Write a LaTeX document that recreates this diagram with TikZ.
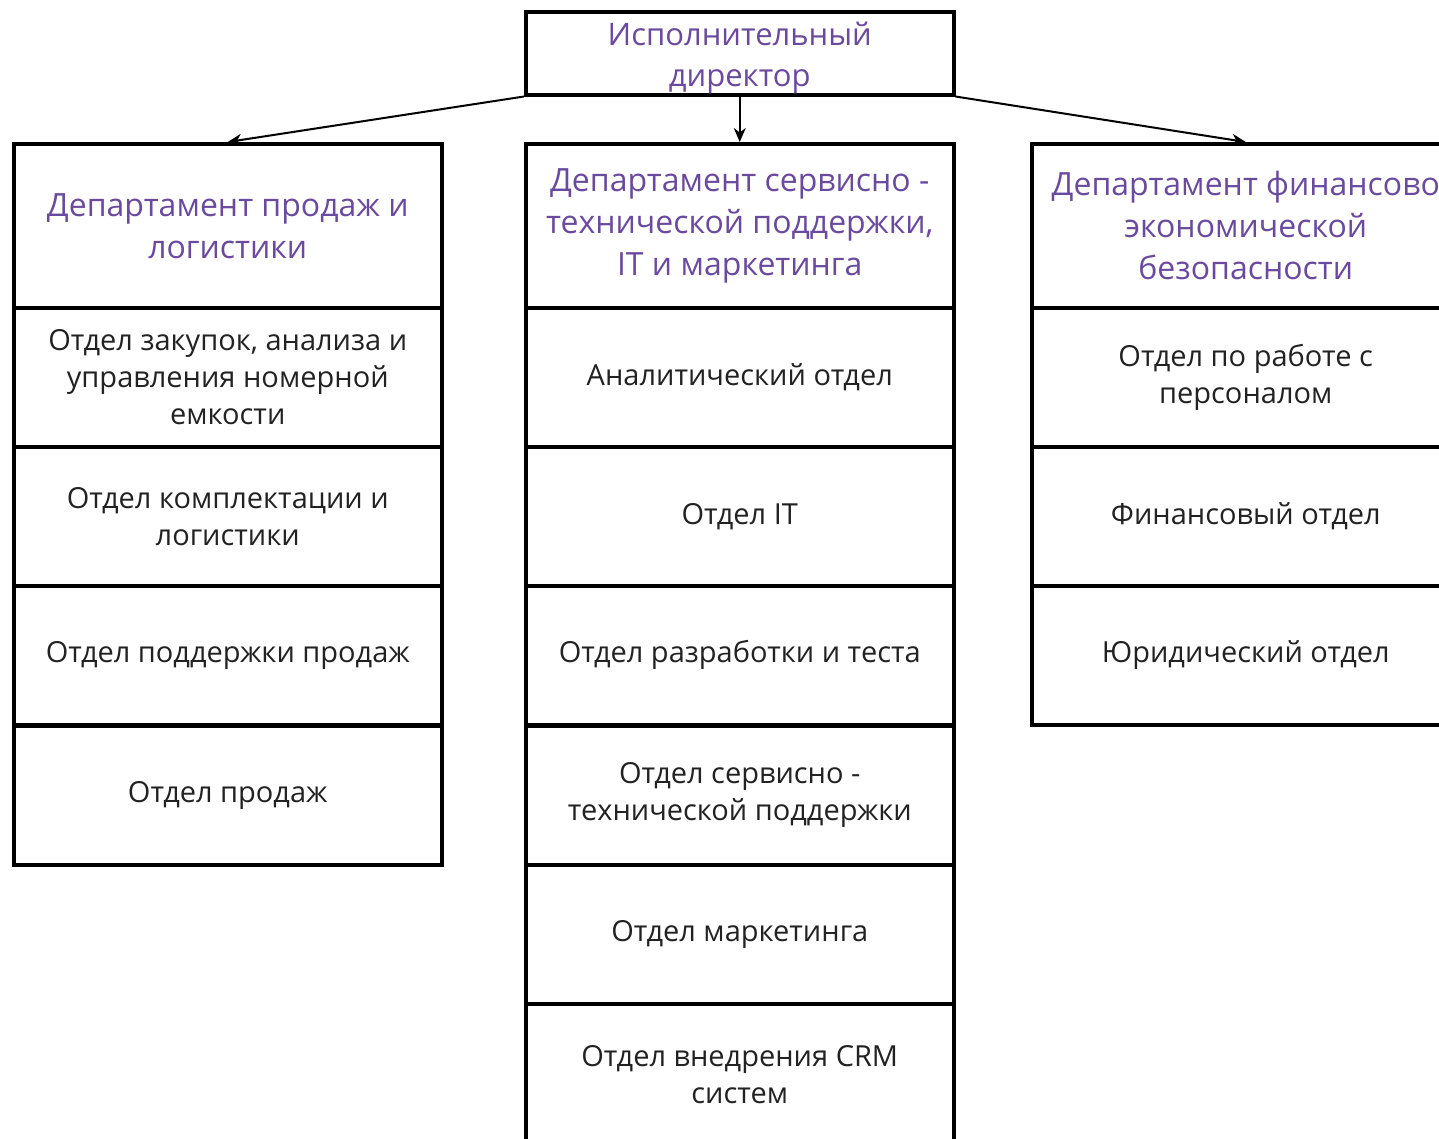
\documentclass[tikz,border=0pt]{standalone}
\usepackage{fontspec}
\setmainfont{Open Sans}
\usetikzlibrary{arrows.meta}
\definecolor{hdr}{RGB}{106,74,158}
\definecolor{txt}{RGB}{34,34,34}
\tikzset{
  cell/.style={draw=black, line width=3.5pt, rectangle, minimum width=428pt, inner sep=0pt, align=center, text=txt, font=\fontsize{29}{37}\selectfont, anchor=north west},
  hdrcell/.style={cell, text=hdr, font=\fontsize{32}{42}\selectfont},
  hdrtext/.style={text=hdr, align=center, inner sep=0pt, font=\fontsize{31}{41}\selectfont},
  conn/.style={line width=2pt, -{Stealth[length=14pt,width=12pt]}}
}
\begin{document}
\begin{tikzpicture}[x=1pt,y=-1pt]
\useasboundingbox (0,0) rectangle (1439,1138);
\clip (0,0) rectangle (1439,1138);
\fill[white] (0,0) rectangle (1439,1138);
% top
\node[cell, minimum height=83pt] (top) at (524,10) {};
\node[hdrtext] (toptext) at ([yshift=-5pt]top.center) {Исполнительный\\директор};
% left column
\node[hdrcell, minimum height=164pt] (lh) at (12,142) {Департамент продаж и\\логистики};
\node[cell, minimum height=139pt] (l1) at (12,306) {Отдел закупок, анализа и\\управления номерной\\емкости};
\node[cell, minimum height=139pt] (l2) at (12,445) {Отдел комплектации и\\логистики};
\node[cell, minimum height=139pt] (l3) at (12,584) {Отдел поддержки продаж};
\node[cell, minimum height=139pt] (l4) at (12,724) {Отдел продаж};
% middle column
\node[hdrcell, minimum height=164pt] (mh) at (524,142) {Департамент сервисно -\\технической поддержки,\\IT и маркетинга};
\node[cell, minimum height=139pt] (m1) at (524,306) {Аналитический отдел};
\node[cell, minimum height=139pt] (m2) at (524,445) {Отдел IT};
\node[cell, minimum height=139pt] (m3) at (524,584) {Отдел разработки и теста};
\node[cell, minimum height=139pt] (m4) at (524,724) {Отдел сервисно -\\технической поддержки};
\node[cell, minimum height=139pt] (m5) at (524,863) {Отдел маркетинга};
\node[cell, minimum height=141pt] (m6) at (524,1002) {Отдел внедрения CRM\\систем};
% right column
\node[hdrcell, minimum height=164pt] (rh) at (1030,142) {Департамент финансово\\экономической\\безопасности};
\node[cell, minimum height=139pt] (r1) at (1030,306) {Отдел по работе с\\персоналом};
\node[cell, minimum height=139pt] (r2) at (1030,445) {Финансовый отдел};
\node[cell, minimum height=139pt] (r3) at (1030,584) {Юридический отдел};
% connectors
\draw[conn] (top.south west) -- (lh.north);
\draw[conn] (top.south) -- (mh.north);
\draw[conn] (top.south east) -- (rh.north);
\end{tikzpicture}
\end{document}
